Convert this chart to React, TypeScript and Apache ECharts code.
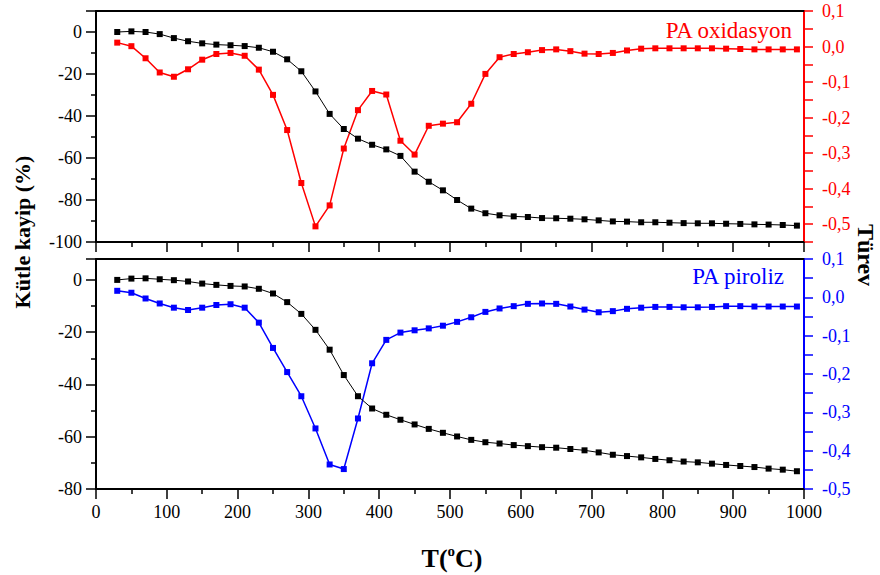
import React, { useEffect, useRef } from 'react';
import * as echarts from 'echarts';

const temps = [30, 50, 70, 90, 110, 130, 150, 170, 190, 210, 230, 250, 270, 290, 310, 330, 350, 370, 390, 410, 430, 450, 470, 490, 510, 530, 550, 570, 590, 610, 630, 650, 670, 690, 710, 730, 750, 770, 790, 810, 830, 850, 870, 890, 910, 930, 950, 970, 990];

const tgOx = [0, 0.3, 0, -1, -2.9, -4.4, -5.4, -6, -6.3, -6.7, -7.5, -9.4, -13, -18.7, -28.3, -39, -46.2, -50.8, -53.7, -55.9, -59, -66.5, -71.3, -75.4, -80, -84.1, -86.3, -87.3, -87.8, -88.1, -88.6, -88.7, -88.9, -89.2, -89.7, -90.2, -90.3, -90.6, -90.6, -90.8, -91, -91.1, -91.1, -91.3, -91.4, -91.6, -91.7, -91.9, -92.2];

const dtgOx = [0.011, 0.001, -0.033, -0.073, -0.085, -0.064, -0.037, -0.021, -0.018, -0.026, -0.065, -0.136, -0.235, -0.384, -0.506, -0.447, -0.287, -0.179, -0.125, -0.135, -0.265, -0.304, -0.223, -0.217, -0.213, -0.161, -0.077, -0.03, -0.021, -0.016, -0.01, -0.008, -0.013, -0.02, -0.021, -0.018, -0.011, -0.006, -0.005, -0.005, -0.005, -0.005, -0.005, -0.006, -0.007, -0.008, -0.008, -0.008, -0.008];

const tgPy = [0, 0.5, 0.6, 0.25, -0.1, -0.6, -1.4, -1.9, -2.3, -2.5, -3.4, -5.2, -8.5, -13, -19.1, -26.7, -36.4, -44.5, -49.2, -51.6, -53.5, -55.3, -57, -58.5, -59.9, -61.2, -62.1, -62.6, -63.2, -63.6, -64, -64.2, -64.7, -65.2, -66, -66.9, -67.4, -67.9, -68.5, -69, -69.5, -69.8, -70.3, -70.8, -71.2, -71.6, -72.2, -72.6, -73.2];

const dtgPy = [0.017, 0.012, -0.003, -0.016, -0.027, -0.033, -0.027, -0.02, -0.018, -0.027, -0.066, -0.132, -0.195, -0.258, -0.342, -0.436, -0.448, -0.316, -0.172, -0.111, -0.092, -0.086, -0.081, -0.074, -0.064, -0.052, -0.038, -0.029, -0.023, -0.017, -0.016, -0.017, -0.024, -0.032, -0.039, -0.036, -0.03, -0.027, -0.025, -0.025, -0.026, -0.026, -0.025, -0.023, -0.023, -0.024, -0.024, -0.024, -0.024];

const FONT = 'Liberation Serif';
const RED = '#ff0000';
const BLUE = '#0000ff';

const leftFmt = (v: number) => {
  const r = Math.round(v);
  return r % 20 === 0 ? String(r) : '';
};
const rightFmt = (v: number) => {
  const r = Math.round(v * 100);
  if (r % 10 !== 0) return '';
  return (r / 100).toFixed(1).replace('.', ',');
};
const xFmt = (v: number) => String(Math.round(v));

const xBottom = (gridIndex: number, showLabel: boolean) => ({
  type: 'value',
  gridIndex,
  min: 0,
  max: 1000,
  interval: 100,
  position: 'bottom',
  axisLine: { show: true, onZero: false, lineStyle: { color: '#000', width: 2 } },
  axisTick: { show: true, inside: false, length: 10, lineStyle: { color: '#000', width: 1.5 } },
  minorTick: { show: true, splitNumber: 2, length: 5, lineStyle: { color: '#000', width: 1.5 } },
  axisLabel: { show: showLabel, fontFamily: FONT, fontSize: 18, color: '#000', margin: 14, formatter: xFmt },
  splitLine: { show: false },
});

const xTop = (gridIndex: number) => ({
  type: 'value',
  gridIndex,
  min: 0,
  max: 1000,
  position: 'top',
  axisLine: { show: true, onZero: false, lineStyle: { color: '#000', width: 2 } },
  axisTick: { show: false },
  axisLabel: { show: false },
  splitLine: { show: false },
});

const yLeft = (gridIndex: number, min: number, max: number) => ({
  type: 'value',
  gridIndex,
  position: 'left',
  min,
  max,
  interval: 20,
  axisLine: { show: true, onZero: false, lineStyle: { color: '#000', width: 2 } },
  axisTick: { show: true, inside: false, length: 10, lineStyle: { color: '#000', width: 1.5 } },
  minorTick: { show: true, splitNumber: 2, length: 5, lineStyle: { color: '#000', width: 1.5 } },
  axisLabel: { fontFamily: FONT, fontSize: 18, color: '#000', margin: 14, formatter: leftFmt },
  splitLine: { show: false },
});

const yRight = (gridIndex: number, min: number, max: number, color: string) => ({
  type: 'value',
  gridIndex,
  position: 'right',
  min,
  max,
  interval: 0.05,
  axisLine: { show: true, onZero: false, lineStyle: { color, width: 2 } },
  axisTick: { show: true, inside: false, length: 9, lineStyle: { color, width: 1.5 } },
  axisLabel: { fontFamily: FONT, fontSize: 18, color, margin: 18, formatter: rightFmt },
  splitLine: { show: false },
});

export default function App() {
  const ref = useRef<HTMLDivElement>(null);
  useEffect(() => {
    if (!ref.current) return;
    const chart = echarts.init(ref.current, undefined, { renderer: 'svg' });
    chart.setOption({
      animation: false,
      backgroundColor: '#fff',
      textStyle: { fontFamily: FONT },
      grid: [
        { left: 96, top: 11, width: 708, height: 231 },
        { left: 96, top: 259, width: 708, height: 230 },
      ],
      xAxis: [xBottom(0, false), xBottom(1, true), xTop(0), xTop(1)],
      yAxis: [
        yLeft(0, -100, 10),
        yRight(0, -0.55, 0.1, RED),
        yLeft(1, -80, 8),
        yRight(1, -0.5, 0.1, BLUE),
      ],
      series: [
        {
          type: 'line', xAxisIndex: 0, yAxisIndex: 1,
          data: temps.map((t, i) => [t, dtgOx[i]]),
          symbol: 'rect', symbolSize: 6,
          lineStyle: { color: RED, width: 1.5 }, itemStyle: { color: RED },
        },
        {
          type: 'line', xAxisIndex: 0, yAxisIndex: 0,
          data: temps.map((t, i) => [t, tgOx[i]]),
          symbol: 'rect', symbolSize: 6,
          lineStyle: { color: '#000', width: 1 }, itemStyle: { color: '#000' },
        },
        {
          type: 'line', xAxisIndex: 1, yAxisIndex: 3,
          data: temps.map((t, i) => [t, dtgPy[i]]),
          symbol: 'rect', symbolSize: 6,
          lineStyle: { color: BLUE, width: 1.5 }, itemStyle: { color: BLUE },
        },
        {
          type: 'line', xAxisIndex: 1, yAxisIndex: 2,
          data: temps.map((t, i) => [t, tgPy[i]]),
          symbol: 'rect', symbolSize: 6,
          lineStyle: { color: '#000', width: 1 }, itemStyle: { color: '#000' },
        },
      ],
      graphic: [
        {
          type: 'text', x: 792, y: 30,
          style: { text: 'PA oxidasyon', fill: RED, fontFamily: FONT, fontSize: 23, textAlign: 'right', textVerticalAlign: 'middle' },
        },
        {
          type: 'text', x: 784, y: 276,
          style: { text: 'PA piroliz', fill: BLUE, fontFamily: FONT, fontSize: 23, textAlign: 'right', textVerticalAlign: 'middle' },
        },
        {
          type: 'text', x: 22, y: 232, rotation: Math.PI / 2,
          style: { text: 'Kütle kayip (%)', fill: '#000', fontFamily: FONT, fontWeight: 'bold', fontSize: 22, textAlign: 'center', textVerticalAlign: 'middle' },
        },
        {
          type: 'text', x: 866, y: 255, rotation: -Math.PI / 2,
          style: { text: 'Türev', fill: '#000', fontFamily: FONT, fontWeight: 'bold', fontSize: 24, textAlign: 'center', textVerticalAlign: 'middle' },
        },
        {
          type: 'text', x: 452, y: 558,
          style: {
            text: 'T({sup|o}C)',
            fill: '#000',
            fontFamily: FONT,
            fontWeight: 'bold',
            fontSize: 26,
            textAlign: 'center',
            textVerticalAlign: 'middle',
            rich: {
              sup: { fontSize: 15, fontWeight: 'bold', fontFamily: FONT, fill: '#000', verticalAlign: 'top', padding: [0, 0, 14, 0] },
            },
          },
        },
      ],
    });
    return () => chart.dispose();
  }, []);
  return <div ref={ref} style={{ position: 'absolute', left: 0, top: 0, width: 880, height: 575 }} />;
}
